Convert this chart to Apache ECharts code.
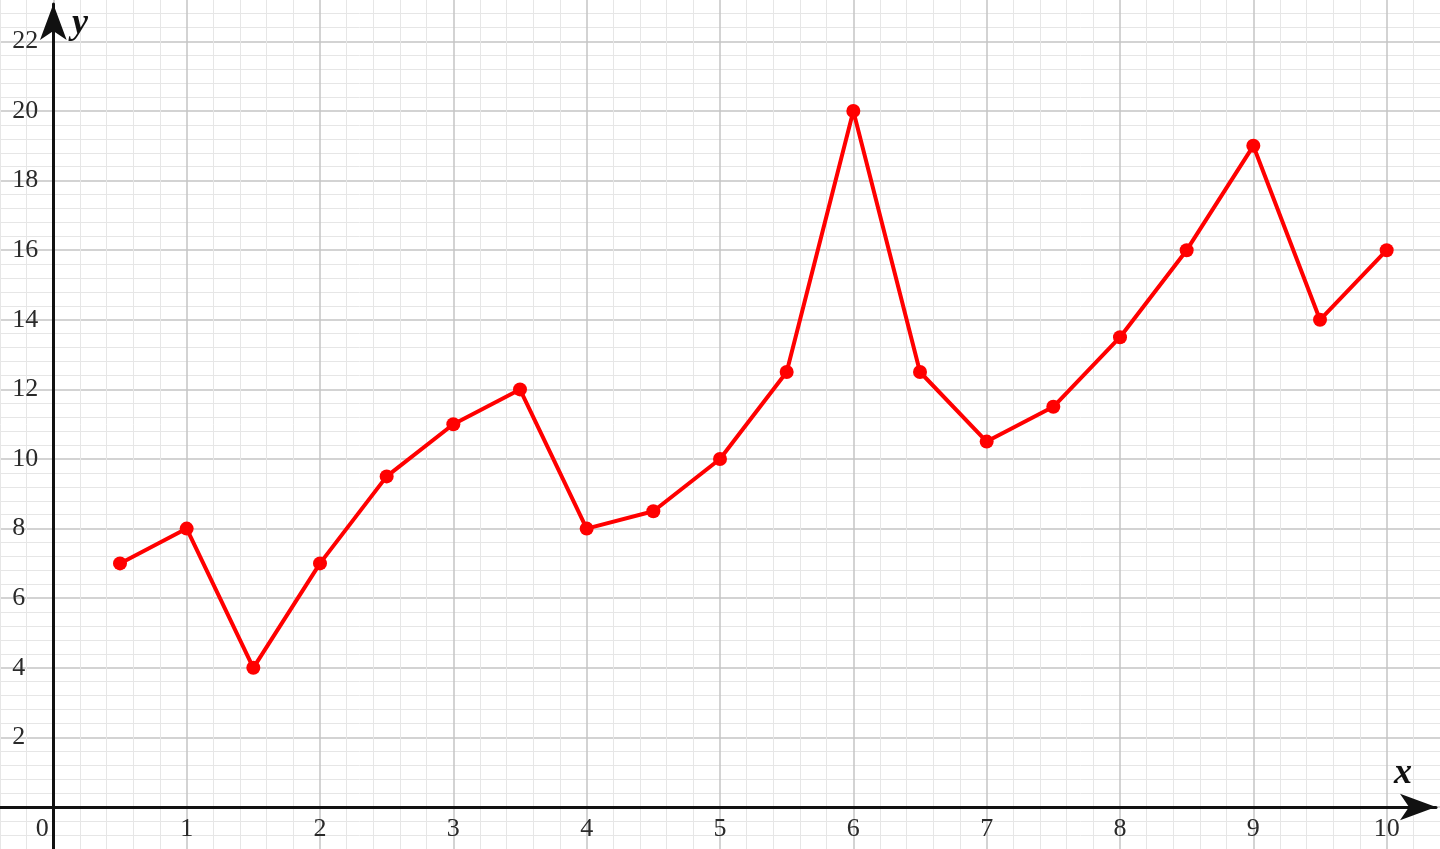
<!DOCTYPE html>
<html>
<head>
<meta charset="utf-8">
<script src="https://cdn.jsdelivr.net/npm/echarts@6/dist/echarts.min.js"></script>
<style>
html,body{margin:0;padding:0;background:#fff;}
#chart{width:1440px;height:849px;}
</style>
</head>
<body>
<div id="chart"></div>
<script>
var xValues = [0.5, 1, 1.5, 2, 2.5, 3, 3.5, 4, 4.5, 5, 5.5, 6, 6.5, 7, 7.5, 8, 8.5, 9, 9.5, 10];
var yValues = [7, 8, 4, 7, 9.5, 11, 12, 8, 8.5, 10, 12.5, 20, 12.5, 10.5, 11.5, 13.5, 16, 19, 14, 16];
var xTickLabels = ['0','1','2','3','4','5','6','7','8','9','10'];
var yTickLabels = ['2','4','6','8','10','12','14','16','18','20','22'];

var points = xValues.map(function(x, i){ return [x, yValues[i]]; });
var labelFont = '"Liberation Serif", "DejaVu Serif", serif';

var chart = echarts.init(document.getElementById('chart'));
chart.setOption({
  backgroundColor: '#ffffff',
  animation: false,
  grid: [
    {left: -80, right: -80, top: -28.2, bottom: -27.6, containLabel: false, outerBoundsMode: 'none'},
    {left: 0, right: 4, top: 4, bottom: 0, containLabel: false, outerBoundsMode: 'none'}
  ],
  xAxis: [
    {
      gridIndex: 0, type: 'value', min: -1, max: 11, interval: 1,
      position: 'bottom', offset: -69.6,
      axisLine: {show: false, onZero: false},
      axisTick: {show: false},
      minorTick: {show: false, splitNumber: 5},
      splitLine: {show: true, lineStyle: {color: '#c4c4c4', width: 1.5}},
      minorSplitLine: {show: true, lineStyle: {color: '#e6e6e6', width: 1}},
      axisLabel: {
        show: true, margin: 9, fontFamily: labelFont, fontSize: 26, color: '#2a2a2a',
        formatter: function(v){
          var s = String(v);
          if (xTickLabels.indexOf(s) < 0) return '';
          if (s === '0') return '{z|0}';
          return s;
        },
        rich: {z: {fontFamily: labelFont, fontSize: 26, color: '#2a2a2a', padding: [0, 22, 0, 0]}}
      }
    },
    {
      gridIndex: 1, type: 'value', min: -0.4, max: 10.37,
      axisLine: {show: true, onZero: true, symbol: ['none', 'arrow'], symbolSize: [20, 36],
        lineStyle: {color: '#111', width: 3}},
      axisTick: {show: false}, axisLabel: {show: false}, splitLine: {show: false}
    }
  ],
  yAxis: [
    {
      gridIndex: 0, type: 'value', min: -2, max: 24, interval: 2,
      position: 'left', offset: -133.33,
      axisLine: {show: false, onZero: false},
      axisTick: {show: false},
      minorTick: {show: false, splitNumber: 5},
      splitLine: {show: true, lineStyle: {color: '#c4c4c4', width: 1.5}},
      minorSplitLine: {show: true, lineStyle: {color: '#e6e6e6', width: 1}},
      axisLabel: {
        show: true, margin: 41, align: 'left', fontFamily: labelFont, fontSize: 26, color: '#2a2a2a',
        formatter: function(v){
          var s = String(v);
          return yTickLabels.indexOf(s) < 0 ? '' : s;
        }
      }
    },
    {
      gridIndex: 1, type: 'value', min: -1.207, max: 23.07,
      axisLine: {show: true, onZero: true, symbol: ['none', 'arrow'], symbolSize: [20, 36],
        lineStyle: {color: '#111', width: 3}},
      axisTick: {show: false}, axisLabel: {show: false}, splitLine: {show: false}
    }
  ],
  graphic: [
    {type: 'text', left: 72, top: 6, z: 100,
      style: {text: 'y', font: 'italic bold 36px "Liberation Serif", serif', fill: '#111'}},
    {type: 'text', left: 1394, top: 756, z: 100,
      style: {text: 'x', font: 'italic bold 36px "Liberation Serif", serif', fill: '#111'}}
  ],
  series: [{
    type: 'line',
    xAxisIndex: 0, yAxisIndex: 0,
    data: points,
    symbol: 'circle', symbolSize: 14,
    lineStyle: {color: '#ff0000', width: 4},
    itemStyle: {color: '#ff0000'},
    z: 10
  }]
});
</script>
</body>
</html>
